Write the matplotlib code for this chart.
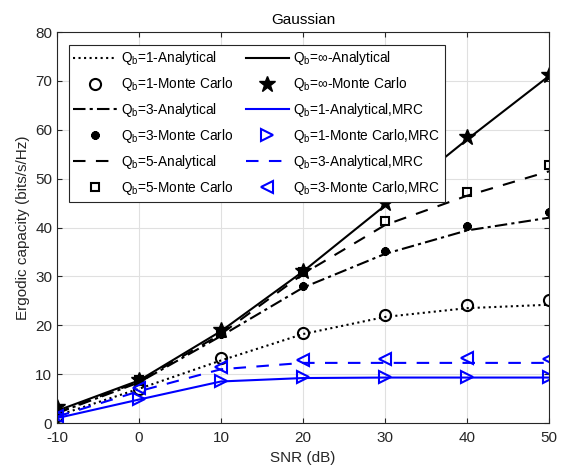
import matplotlib.pyplot as plt

plt.rcParams['font.family'] = ['Liberation Sans', 'DejaVu Sans']
plt.rcParams['mathtext.fontset'] = 'custom'
plt.rcParams['mathtext.rm'] = 'Liberation Sans'
plt.rcParams['mathtext.it'] = 'Liberation Sans:italic'
plt.rcParams['axes.unicode_minus'] = False

snr = [-10, 0, 10, 20, 30, 40, 50]

# analytical curves
q1_ana = [1.5, 7.0, 12.8, 18.2, 21.7, 23.5, 24.2]
q3_ana = [2.0, 8.3, 17.8, 27.7, 34.6, 39.4, 42.0]
q5_ana = [2.1, 8.5, 18.2, 30.5, 40.5, 46.5, 51.5]
qinf_ana = [2.5, 8.7, 18.8, 31.0, 44.5, 58.0, 71.0]
q1_mrc_ana = [1.0, 4.8, 8.5, 9.2, 9.3, 9.3, 9.3]
q3_mrc_ana = [1.3, 6.5, 11.0, 12.3, 12.3, 12.3, 12.3]

# monte carlo points
q1_mc = [1.5, 7.0, 13.4, 18.5, 22.2, 24.1, 25.1]
q3_mc = [2.0, 8.5, 18.2, 28.0, 35.2, 40.3, 43.1]
q5_mc = [2.2, 8.7, 18.5, 30.8, 41.3, 47.3, 52.8]
qinf_mc = [3.3, 8.9, 19.0, 31.1, 45.0, 58.5, 71.2]
q1_mrc_mc = [1.6, 4.9, 8.6, 9.4, 9.4, 9.4, 9.5]
q3_mrc_mc = [1.5, 7.1, 11.4, 12.8, 13.1, 13.2, 13.0]


def main():
    fig = plt.figure(figsize=(5.66, 4.73), dpi=100)
    ax = fig.add_axes([0.1007, 0.1057, 0.8693, 0.8266])
    blue = '#0000ff'
    lw = 1.5
    ms = 8
    mk = dict(linestyle='none', markerfacecolor='none', markeredgewidth=1.5, markersize=ms)

    ax.plot(snr, q1_ana, color='k', linestyle=':', lw=lw, label=r'Q$_\mathrm{b}$=1-Analytical')
    ax.plot(snr, q1_mc, color='k', marker='o', label=r'Q$_\mathrm{b}$=1-Monte Carlo', **mk)
    ax.plot(snr, q3_ana, color='k', linestyle=(0, (6, 2, 1.5, 2)), lw=lw, label=r'Q$_\mathrm{b}$=3-Analytical')
    ax.plot(snr, q3_mc, color='k', marker=(8, 2, 0), linestyle='none', markersize=6,
            markeredgewidth=2.0, label=r'Q$_\mathrm{b}$=3-Monte Carlo')
    ax.plot(snr, q5_ana, color='k', linestyle=(0, (6, 5)), lw=lw, label=r'Q$_\mathrm{b}$=5-Analytical')
    ax.plot(snr, q5_mc, color='k', marker='s', label=r'Q$_\mathrm{b}$=5-Monte Carlo',
            linestyle='none', markerfacecolor='none', markeredgewidth=1.5, markersize=6)
    ax.plot(snr, qinf_ana, color='k', linestyle='-', lw=lw, label=r'Q$_\mathrm{b}$=$\infty$-Analytical')
    ax.plot(snr, qinf_mc, color='k', marker='*', linestyle='none', markersize=12,
            label=r'Q$_\mathrm{b}$=$\infty$-Monte Carlo')
    ax.plot(snr, q1_mrc_ana, color=blue, linestyle='-', lw=lw, label=r'Q$_\mathrm{b}$=1-Analytical,MRC')
    ax.plot(snr, q1_mrc_mc, color=blue, marker='>', label=r'Q$_\mathrm{b}$=1-Monte Carlo,MRC', **mk)
    ax.plot(snr, q3_mrc_ana, color=blue, linestyle=(0, (6, 5)), lw=lw, label=r'Q$_\mathrm{b}$=3-Analytical,MRC')
    ax.plot(snr, q3_mrc_mc, color=blue, marker='<', label=r'Q$_\mathrm{b}$=3-Monte Carlo,MRC', **mk)

    ax.set_xlim(-10, 50)
    ax.set_ylim(0, 80)
    ax.set_xticks(range(-10, 51, 10))
    ax.set_yticks(range(0, 81, 10))
    ax.grid(True, color='#e0e0e0', lw=0.8)
    ax.set_axisbelow(True)
    ax.tick_params(direction='in', top=True, right=True, labelsize=11, colors='#262626')
    ax.tick_params(axis='x', pad=6)
    for s in ax.spines.values():
        s.set_color('#262626')
    ax.set_xlabel('SNR (dB)', fontsize=11, color='#262626')
    ax.set_ylabel('Ergodic capacity (bits/s/Hz)', fontsize=11, color='#262626')
    ax.set_title('Gaussian', fontsize=11)

    leg = ax.legend(ncol=2, loc='upper left', bbox_to_anchor=(0.01, 0.985), fontsize=9.8,
                    handlelength=3.2, handletextpad=0.3, columnspacing=0.9,
                    labelspacing=0.58, borderpad=0.35, fancybox=False, framealpha=1)
    leg.get_frame().set_edgecolor('#262626')
    leg.get_frame().set_linewidth(0.8)

    fig.savefig('out.png', dpi=100)


if __name__ == '__main__':
    main()
